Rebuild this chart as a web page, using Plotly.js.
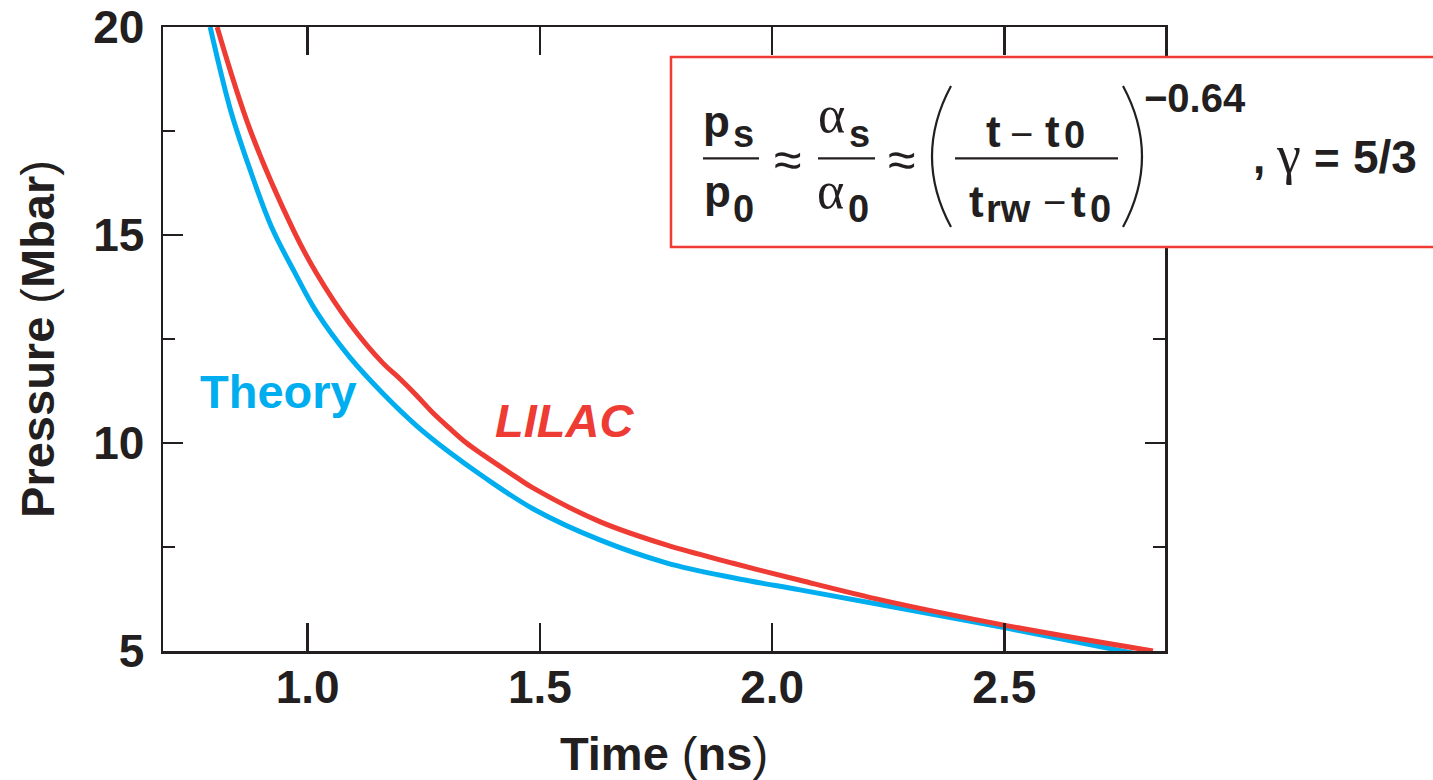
<!DOCTYPE html>
<html>
<head>
<meta charset="utf-8">
<script src="https://cdn.plot.ly/plotly-3.0.1.min.js"></script>
<style>html,body{margin:0;padding:0;background:#fff;}#chart{width:1433px;height:780px;}</style>
</head>
<body>
<div id="chart"></div>
<script>
// ---- data ----
const theoryTime = [0.790, 0.834, 0.875, 0.922, 0.972, 1.019, 1.090, 1.162, 1.234, 1.306, 1.377, 1.485, 1.629, 1.772, 1.916, 2.060, 2.241, 2.505, 2.781];
const theoryPressure = [20.0, 18.0, 16.6, 15.2, 14.1, 13.15, 12.07, 11.19, 10.42, 9.77, 9.2, 8.42, 7.67, 7.12, 6.76, 6.47, 6.10, 5.55, 4.94];
const lilacTime = [0.805, 0.877, 0.970, 1.019, 1.090, 1.162, 1.198, 1.234, 1.270, 1.306, 1.342, 1.377, 1.449, 1.485, 1.629, 1.772, 1.916, 2.060, 2.241, 2.505, 2.820];
const lilacPressure = [20.0, 17.5, 15.1, 14.08, 12.88, 11.92, 11.55, 11.15, 10.72, 10.35, 10.0, 9.72, 9.18, 8.92, 8.11, 7.55, 7.11, 6.70, 6.21, 5.61, 5.0];
const xTickVals = [1.0, 1.5, 2.0, 2.5];
const xTickText = ['1.0', '1.5', '2.0', '2.5'];
const yTickVals = [5, 10, 15, 20];
const yTickText = ['5', '10', '15', '20'];
const yMinorVals = [7.5, 12.5, 17.5];
const seriesNames = ['Theory', 'LILAC'];

// ---- style ----
const INK = '#231F20';
const CYAN = '#00AEEF';
const RED = '#EE3B33';
const SANS = '"Liberation Sans", Arial, Helvetica, sans-serif';
const SERIF = '"Liberation Serif", "DejaVu Serif", serif';

const W = 1433, H = 780;
const L = 163, R = 1165, TOP = 27, BOT = 651;
const fx = px => (px - L) / (R - L);
const fy = py => (BOT - py) / (BOT - TOP);

function glyph(text, cx, baseline, size, opts) {
  opts = opts || {};
  const serif = !!opts.serif;
  const fam = opts.family || (serif ? SERIF : SANS);
  const k = serif ? 0.3375 : 0.3465;
  return {
    xref: 'paper', yref: 'paper', x: fx(cx), y: fy(baseline - k * size),
    xanchor: 'center', yanchor: 'middle', showarrow: false, text: text,
    borderpad: 0,
    font: {family: fam, size: size, color: INK, weight: opts.weight || (serif ? 'normal' : 'bold')}
  };
}
function midGlyph(text, cx, cy, size, opts) {
  opts = opts || {};
  return {
    xref: 'paper', yref: 'paper', x: fx(cx), y: fy(cy),
    xanchor: 'center', yanchor: 'middle', showarrow: false, text: text, borderpad: 0,
    font: {family: opts.family || SANS, size: size, color: INK, weight: opts.weight || 'normal'}
  };
}
function hline(x0, x1, y) {
  return {type: 'line', xref: 'paper', yref: 'paper', x0: fx(x0), x1: fx(x1), y0: fy(y), y1: fy(y),
          line: {color: INK, width: 2.2}, layer: 'above'};
}
function paren(xEnd, xMid, yTop, yBot) {
  const c = 2 * xMid - xEnd;
  const yM = (yTop + yBot) / 2;
  return {type: 'path', xref: 'paper', yref: 'paper', layer: 'above',
          path: `M ${fx(xEnd)} ${fy(yTop)} Q ${fx(c)} ${fy(yM)} ${fx(xEnd)} ${fy(yBot)}`,
          line: {color: INK, width: 2.2}};
}

const traces = [
  {x: theoryTime, y: theoryPressure, name: seriesNames[0], type: 'scatter', mode: 'lines',
   line: {color: CYAN, width: 5, shape: 'spline', smoothing: 1.0}, hoverinfo: 'x+y+name'},
  {x: lilacTime, y: lilacPressure, name: seriesNames[1], type: 'scatter', mode: 'lines',
   line: {color: RED, width: 5, shape: 'spline', smoothing: 1.0}, hoverinfo: 'x+y+name'}
];

const annotations = [
  // series labels
  {xref: 'x', yref: 'y', x: 0.9365, y: 11.23, text: seriesNames[0], showarrow: false, xanchor: 'center', yanchor: 'middle',
   font: {family: SANS, size: 47, color: CYAN, weight: 'bold'}},
  {xref: 'x', yref: 'y', x: 1.553, y: 10.54, text: '<i>' + seriesNames[1] + '</i>', showarrow: false, xanchor: 'center', yanchor: 'middle',
   font: {family: SANS, size: 47, color: RED, weight: 'bold'}},
  // formula: p_s / p_0
  glyph('p', 716, 137, 44),
  glyph('s', 743, 147, 38),
  glyph('p', 717, 207, 44),
  glyph('0', 743, 221.7, 38),
  midGlyph('\u2248', 787, 160, 50),
  // alpha_s / alpha_0
  glyph('\u03B1', 831, 132, 52, {serif: true}),
  glyph('s', 859, 147, 38),
  glyph('\u03B1', 830, 208, 52, {serif: true}),
  glyph('0', 858, 221.7, 38),
  midGlyph('\u2248', 901, 160, 50),
  // (t - t0)/(t_rw - t0)
  glyph('t', 993, 146.7, 44),
  midGlyph('\u2212', 1021, 134, 40, {family: SANS}),
  glyph('t', 1052, 146.7, 44),
  glyph('0', 1074, 148, 38),
  glyph('t', 976, 216.7, 44),
  glyph('rw', 1008, 221.7, 38),
  midGlyph('\u2212', 1054, 202, 40, {family: SANS}),
  glyph('t', 1078, 216.7, 44),
  glyph('0', 1100, 221.7, 38),
  // exponent
  glyph('\u22120.64', 1195, 111.7, 40),
  // , gamma = 5/3
  glyph(',', 1259, 173, 44),
  glyph('\u03B3', 1288, 173, 54, {serif: true}),
  midGlyph('=', 1326.5, 158, 44, {weight: 'bold', family: SANS}),
  glyph('5/3', 1385, 173.3, 46)
];

const shapes = [
  {type: 'rect', xref: 'paper', yref: 'paper', x0: fx(671), x1: fx(1460), y0: fy(247), y1: fy(57),
   line: {color: RED, width: 2.5}, fillcolor: '#ffffff', layer: 'above'},
  hline(703, 759, 158.3),
  hline(818, 875, 158.3),
  hline(955, 1118, 158.3),
  paren(951, 932, 86, 227),
  paren(1123, 1142, 86, 227)
];

const axisCommon = {
  showline: true, linecolor: INK, linewidth: 2.5, mirror: 'ticks',
  ticks: 'inside', tickcolor: INK, tickwidth: 2.5,
  showgrid: false, zeroline: false, fixedrange: true
};

const layout = {
  width: W, height: H,
  margin: {l: L, r: W - R, t: TOP, b: H - BOT, pad: 0},
  paper_bgcolor: '#ffffff', plot_bgcolor: '#ffffff',
  showlegend: false,
  xaxis: Object.assign({}, axisCommon, {
    range: [0.6885, 2.846], tickmode: 'array', tickvals: xTickVals, ticktext: xTickText,
    ticklen: 28, ticklabelstandoff: -6,
    tickfont: {family: SANS, size: 46, color: INK, weight: 'bold'},
    title: {text: 'Time <span style="font-weight:normal">(</span>ns<span style="font-weight:normal">)</span>',
            font: {family: SANS, size: 47, color: INK, weight: 'bold'}, standoff: 34}
  }),
  yaxis: Object.assign({}, axisCommon, {
    range: [5, 20], tickmode: 'array', tickvals: yTickVals, ticktext: yTickText,
    ticklen: 20, ticklabelstandoff: 7,
    minor: {tickmode: 'array', tickvals: yMinorVals, ticks: 'inside', ticklen: 12, tickwidth: 2.5, tickcolor: INK},
    tickfont: {family: SANS, size: 46, color: INK, weight: 'bold'},
    title: {text: 'Pressure <span style="font-weight:normal">(</span>Mbar<span style="font-weight:normal">)</span>',
            font: {family: SANS, size: 47, color: INK, weight: 'bold'}, standoff: 24}
  }),
  annotations: annotations,
  shapes: shapes
};

Plotly.newPlot('chart', traces, layout, {displayModeBar: false, staticPlot: true});
</script>
</body>
</html>
